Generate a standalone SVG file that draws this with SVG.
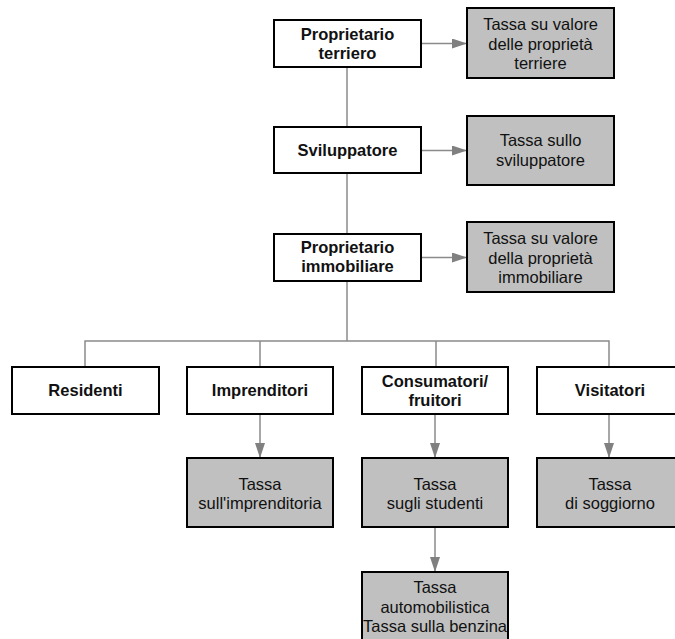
<svg xmlns="http://www.w3.org/2000/svg" width="675" height="639" viewBox="0 0 675 639">
  <style>
    .actor rect { fill: #ffffff; stroke: #000000; stroke-width: 2; }
    .tax rect { fill: #c0c0c0; stroke: #000000; stroke-width: 2; }
    .actor text { font-family: "Liberation Sans", Arial, sans-serif; font-size: 16.5px; font-weight: bold; fill: #111111; text-anchor: middle; }
    .tax text { font-family: "Liberation Sans", Arial, sans-serif; font-size: 16.5px; fill: #111111; text-anchor: middle; }
    .conn { fill: none; stroke: #8a8a8a; stroke-width: 1.5; }
  </style>
  <defs>
    <marker id="arrow" viewBox="0 0 15 10" refX="15" refY="5" markerWidth="15" markerHeight="10" markerUnits="userSpaceOnUse" orient="auto">
      <path d="M0,0 L15,5 L0,10 Z" fill="#808080"/>
    </marker>
  </defs>
  <rect width="675" height="639" fill="#ffffff"/>

  <!-- connectors -->
  <g id="connectors">
    <path class="conn" d="M347,67 V341"/>
    <path class="conn" d="M85,367 V341 H609 V367"/>
    <path class="conn" d="M260,341 V367"/>
    <path class="conn" d="M436,341 V367"/>
    <path class="conn" d="M421,43.5 H467" marker-end="url(#arrow)"/>
    <path class="conn" d="M421,150.5 H467" marker-end="url(#arrow)"/>
    <path class="conn" d="M421,257.5 H467" marker-end="url(#arrow)"/>
    <path class="conn" d="M260,414 V458" marker-end="url(#arrow)"/>
    <path class="conn" d="M435,414 V458" marker-end="url(#arrow)"/>
    <path class="conn" d="M609,414 V458" marker-end="url(#arrow)"/>
    <path class="conn" d="M435,527 V572" marker-end="url(#arrow)"/>
  </g>

  <!-- chain of owners -->
  <g id="proprietario-terriero" class="actor">
    <rect x="274" y="20" width="147" height="47"/>
    <text x="347.5" y="39.5">Proprietario</text>
    <text x="347.5" y="58.5">terriero</text>
  </g>
  <g id="tassa-proprieta-terriere" class="tax">
    <rect x="467" y="8" width="147" height="70"/>
    <text x="540.5" y="30">Tassa su valore</text>
    <text x="540.5" y="49.5">delle proprietà</text>
    <text x="540.5" y="69">terriere</text>
  </g>

  <g id="sviluppatore" class="actor">
    <rect x="274" y="127" width="147" height="46"/>
    <text x="347.5" y="156">Sviluppatore</text>
  </g>
  <g id="tassa-sviluppatore" class="tax">
    <rect x="467" y="116" width="147" height="69"/>
    <text x="540.5" y="146">Tassa sullo</text>
    <text x="540.5" y="165.5">sviluppatore</text>
  </g>

  <g id="proprietario-immobiliare" class="actor">
    <rect x="274" y="234" width="147" height="47"/>
    <text x="347.5" y="253">Proprietario</text>
    <text x="347.5" y="272">immobiliare</text>
  </g>
  <g id="tassa-proprieta-immobiliare" class="tax">
    <rect x="467" y="222" width="147" height="70"/>
    <text x="540.5" y="244">Tassa su valore</text>
    <text x="540.5" y="263.5">della proprietà</text>
    <text x="540.5" y="283">immobiliare</text>
  </g>

  <!-- users -->
  <g id="residenti" class="actor">
    <rect x="12" y="367" width="147" height="47"/>
    <text x="85.5" y="396">Residenti</text>
  </g>
  <g id="imprenditori" class="actor">
    <rect x="187" y="367" width="146" height="47"/>
    <text x="260" y="396">Imprenditori</text>
  </g>
  <g id="consumatori" class="actor">
    <rect x="362" y="367" width="146" height="47"/>
    <text x="435" y="386.5">Consumatori/</text>
    <text x="435" y="405.5">fruitori</text>
  </g>
  <g id="visitatori" class="actor">
    <rect x="537" y="367" width="146" height="47"/>
    <text x="610" y="396">Visitatori</text>
  </g>

  <!-- user taxes -->
  <g id="tassa-imprenditoria" class="tax">
    <rect x="187" y="458" width="146" height="69"/>
    <text x="260" y="489.5">Tassa</text>
    <text x="260" y="509">sull'imprenditoria</text>
  </g>
  <g id="tassa-studenti" class="tax">
    <rect x="362" y="458" width="146" height="69"/>
    <text x="435" y="489.5">Tassa</text>
    <text x="435" y="509">sugli studenti</text>
  </g>
  <g id="tassa-soggiorno" class="tax">
    <rect x="537" y="458" width="146" height="69"/>
    <text x="610" y="489.5">Tassa</text>
    <text x="610" y="509">di soggiorno</text>
  </g>
  <g id="tassa-automobilistica" class="tax">
    <rect x="362" y="572" width="146" height="80"/>
    <text x="435" y="593">Tassa</text>
    <text x="435" y="612.5">automobilistica</text>
    <text x="435" y="632">Tassa sulla benzina</text>
  </g>
</svg>
